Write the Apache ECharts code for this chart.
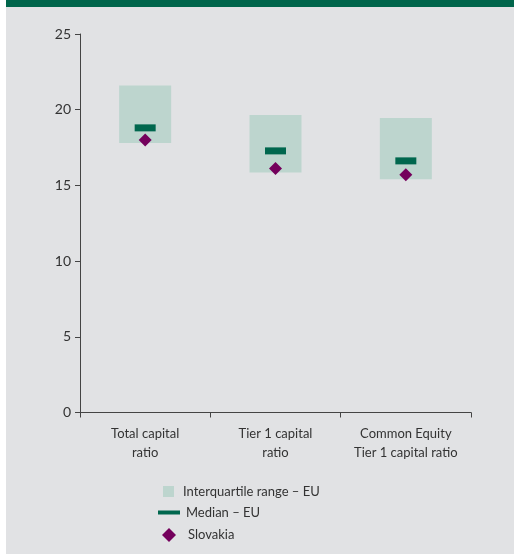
<!DOCTYPE html>
<html><head><meta charset="utf-8">
<script src="https://cdn.jsdelivr.net/npm/echarts@6/dist/echarts.min.js"></script>
<style>html,body{margin:0;padding:0;background:#fff}#c{width:514px;height:555px}</style>
</head><body><div id="c"></div>
<script>
const categories = ['Total capital\nratio', 'Tier 1 capital\nratio', 'Common Equity\nTier 1 capital ratio'];
const iqrLow = [17.8, 15.85, 15.4];
const iqrHigh = [21.6, 19.65, 19.45];
const medianEU = [18.8, 17.28, 16.62];
const slovakia = [18.0, 16.12, 15.7];
const yTicks = {min: 0, max: 25, interval: 5};

const FONT = 'Lato';
const chart = echarts.init(document.getElementById('c'), null, {renderer: 'canvas'});
const iqrSpan = iqrHigh.map((h, i) => +(h - iqrLow[i]).toFixed(3));

chart.setOption({
  animation: false,
  backgroundColor: 'transparent',
  graphic: [
    {type: 'rect', shape: {x: 6, y: 0, width: 508, height: 554}, style: {fill: '#e1e2e4'}, z: -10},
    {type: 'rect', shape: {x: 6, y: 0, width: 508, height: 7}, style: {fill: '#00654b'}, z: -9}
  ],
  grid: {left: 80, right: 43, top: 34, bottom: 142.5, containLabel: false},
  legend: [
    {data: [{name: 'Interquartile range – EU', icon: 'rect'}], left: 158, top: 480, itemWidth: 11, itemHeight: 11, itemGap: 0,
     textStyle: {fontFamily: FONT, fontSize: 13, color: '#333', padding: [0, 0, 0, 4]}, selectedMode: false},
    {data: [{name: 'Median – EU', icon: 'path://M0,0 H22 V4 H0 Z'}], left: 153, top: 501, itemWidth: 22, itemHeight: 4, itemGap: 0,
     textStyle: {fontFamily: FONT, fontSize: 13, color: '#333', padding: [0, 0, 0, 1]}, selectedMode: false},
    {data: [{name: 'Slovakia', icon: 'diamond'}], left: 157, top: 523, itemWidth: 14, itemHeight: 14, itemGap: 0,
     textStyle: {fontFamily: FONT, fontSize: 13, color: '#333', padding: [0, 0, 0, 7]}, selectedMode: false}
  ],
  xAxis: {
    type: 'category', data: categories, boundaryGap: true,
    axisLine: {lineStyle: {color: '#444', width: 1}},
    axisTick: {show: true, length: 5, lineStyle: {color: '#444'}, alignWithLabel: false},
    axisLabel: {fontFamily: FONT, fontSize: 13, color: '#333', lineHeight: 19, margin: 12, interval: 0}
  },
  yAxis: {
    type: 'value', min: yTicks.min, max: yTicks.max, interval: yTicks.interval,
    axisLine: {show: true, lineStyle: {color: '#444', width: 1}},
    axisTick: {show: true, length: 5, lineStyle: {color: '#444'}},
    splitLine: {show: false},
    axisLabel: {fontFamily: FONT, fontSize: 14, color: '#333', margin: 9}
  },
  series: [
    {name: 'base', type: 'bar', stack: 'iqr', data: iqrLow, barWidth: 52, itemStyle: {color: 'transparent'}, silent: true},
    {name: 'Interquartile range – EU', type: 'bar', stack: 'iqr', data: iqrSpan, barWidth: 52, itemStyle: {color: '#bdd5ce', opacity: 1}},
    {name: 'Median – EU', type: 'scatter', data: medianEU, symbol: 'rect', symbolSize: [21, 7], itemStyle: {color: '#00674e', opacity: 1}, z: 5},
    {name: 'Slovakia', type: 'scatter', data: slovakia, symbol: 'diamond', symbolSize: [13, 13], itemStyle: {color: '#74005c', opacity: 1}, z: 6}
  ]
});
</script></body></html>
